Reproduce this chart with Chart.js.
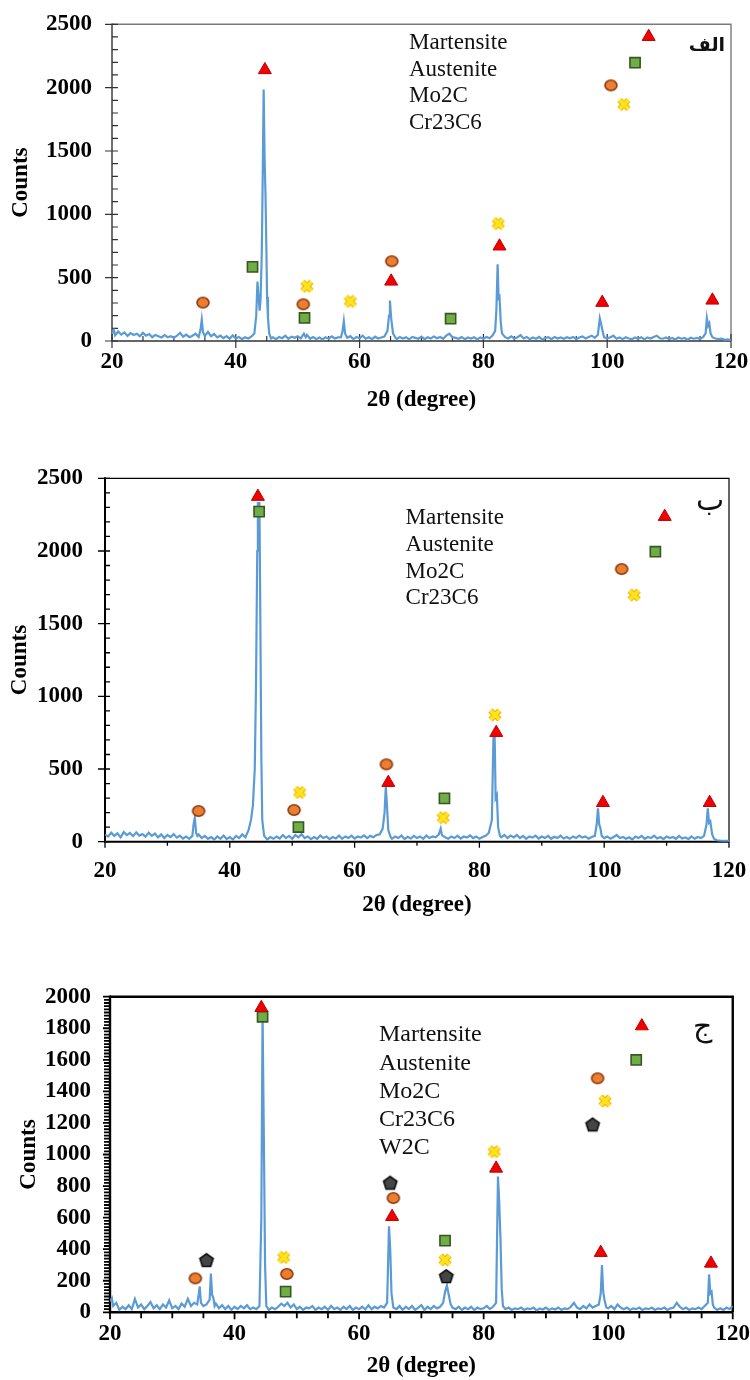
<!DOCTYPE html>
<html lang="fa">
<head>
<meta charset="UTF-8">
<title>XRD</title>
<script src="https://cdn.jsdelivr.net/npm/chart.js"></script>
<style>
  body { margin: 0; background: #fff; width: 750px; height: 1380px; position: relative; overflow: hidden; }
  .panel { position: absolute; left: 0; }
</style>
</head>
<body>
<div class="panel" style="top:0"><canvas id="c1" width="750" height="420"></canvas></div>
<div class="panel" style="top:460px"><canvas id="c2" width="750" height="480"></canvas></div>
<div class="panel" style="top:960px"><canvas id="c3" width="750" height="420"></canvas></div>
<script>
// ---- data ----
const phaseNames = ['Martensite', 'Austenite', 'Mo2C', 'Cr23C6', 'W2C'];
const panelTags = ['الف', 'ب', 'ج'];
const xLabels = [20, 40, 60, 80, 100, 120];
const yLabels1 = [0, 500, 1000, 1500, 2000, 2500];
const yLabels2 = [0, 500, 1000, 1500, 2000, 2500];
const yLabels3 = [0, 200, 400, 600, 800, 1000, 1200, 1400, 1600, 1800, 2000];

// pattern (a) - 2theta, counts
const pattern1 = [
  [20,60],[20.3,85],[20.5,45],[21,75],[21.5,50],[22,68],[22.5,40],[23,62],[23.5,48],[24,58],[24.5,38],[25,64],
  [25.5,42],[26,55],[26.5,30],[27,48],[27.5,38],[28,28],[28.5,46],[29,30],[29.5,38],[30,25],[30.5,42],[31,65],
  [31.5,34],[32,50],[32.5,30],[33,42],[33.5,58],[34,32],[34.3,90],[34.5,170],[34.7,70],[35,40],[35.5,72],[36,38],
  [36.5,55],[37,28],[37.5,42],[38,22],[38.5,38],[39,18],[39.5,44],[40,20],[40.5,32],[41,15],[41.5,30],[42,20],
  [42.5,35],[43,60],[43.3,200],[43.5,470],[43.7,330],[43.85,240],[44,330],[44.2,700],[44.35,1300],[44.5,1985],
  [44.65,1450],[44.8,1150],[44.95,700],[45.05,350],[45.2,180],[45.4,60],[45.7,20],[46,30],[46.5,15],[47,32],
  [47.5,22],[48,42],[48.5,18],[49,34],[49.5,25],[50,38],[50.5,20],[51,58],[51.3,30],[51.5,48],[52,18],[52.5,32],
  [53,15],[53.5,28],[54,12],[54.5,30],[55,18],[55.5,36],[56,20],[56.5,28],[57,30],[57.25,80],[57.45,155],[57.65,60],
  [58,25],[58.5,38],[59,15],[59.5,32],[60,22],[60.5,42],[61,18],[61.5,30],[62,15],[62.5,34],[63,20],[63.5,28],
  [64,35],[64.5,80],[64.75,200],[64.9,320],[65.1,180],[65.4,60],[65.8,25],[66,15],[66.5,32],[67,20],[67.5,30],
  [68,12],[68.5,32],[69,25],[69.5,18],[70,34],[70.5,15],[71,30],[71.5,20],[72,36],[72.5,22],[73,32],[73.5,18],
  [74,42],[74.5,58],[75,30],[75.5,25],[76,18],[76.5,32],[77,15],[77.5,28],[78,20],[78.5,30],[79,12],[79.5,28],
  [80,18],[80.5,32],[81,22],[81.5,45],[81.9,80],[82.1,250],[82.3,605],[82.45,340],[82.6,350],[82.8,150],[83,60],
  [83.5,30],[84,20],[84.5,36],[85,18],[85.5,30],[86,46],[86.5,20],[87,32],[87.5,15],[88,28],[88.5,18],[89,32],
  [89.5,12],[90,24],[90.5,30],[91,15],[91.5,32],[92,20],[92.5,28],[93,18],[93.5,30],[94,22],[94.5,32],[95,15],
  [95.5,28],[96,36],[96.5,20],[97,32],[97.5,42],[98,25],[98.5,50],[98.8,180],[99,140],[99.2,90],[99.5,30],
  [100,20],[100.5,30],[101,42],[101.5,18],[102,28],[102.5,15],[103,30],[103.5,20],[104,15],[104.5,28],[105,18],
  [105.5,30],[106,12],[106.5,28],[107,20],[107.5,32],[108,42],[108.5,22],[109,18],[109.5,28],[110,15],[110.5,24],
  [111,12],[111.5,28],[112,18],[112.5,24],[113,10],[113.5,26],[114,18],[114.5,24],[115,15],[115.5,32],[115.9,60],
  [116.1,180],[116.3,120],[116.5,140],[116.7,60],[117,30],[117.5,20],[118,15],[118.5,18],[119,10],[119.5,12],[120,5]
];
const martensite1 = [[44.7,2140],[65.1,471],[82.6,748],[99.2,303],[117,321]];
const austenite1 = [[42.7,585],[51.1,182],[74.7,176]];
const mo2c1 = [[34.7,303],[50.9,290],[65.2,630]];
const cr23c61 = [[51.5,432],[58.5,313],[82.4,927]];
const keys1 = [[106.7,2402],[104.5,2197],[100.6,2018],[102.7,1867]];

// pattern (b)
const pattern2 = [
  [20,50],[20.5,35],[21,62],[21.5,40],[22,58],[22.5,30],[23,66],[23.5,45],[24,60],[24.5,38],[25,64],[25.5,42],
  [26,52],[26.5,35],[27,62],[27.5,40],[28,56],[28.5,30],[29,50],[29.5,25],[30,46],[30.5,32],[31,52],[31.5,28],
  [32,42],[32.5,22],[33,36],[33.5,20],[34,40],[34.2,120],[34.4,165],[34.6,60],[34.8,40],[35,50],[35.5,25],[36,40],
  [36.5,20],[37,32],[37.5,15],[38,36],[38.5,20],[39,42],[39.5,18],[40,32],[40.5,15],[41,40],[41.5,25],[42,50],
  [42.5,30],[43,80],[43.4,150],[43.7,250],[44,500],[44.2,1080],[44.4,2000],[44.5,2330],[44.75,2330],[44.9,1500],
  [45.05,600],[45.2,150],[45.5,40],[46,15],[46.5,32],[47,20],[47.5,36],[48,22],[48.5,46],[49,25],[49.5,40],[50,20],
  [50.5,46],[51,30],[51.5,52],[52,25],[52.5,36],[53,18],[53.5,32],[54,20],[54.5,42],[55,25],[55.5,36],[56,18],
  [56.5,32],[57,22],[57.5,42],[58,20],[58.5,36],[59,25],[59.5,42],[60,22],[60.5,36],[61,28],[61.5,44],[62,25],
  [62.5,40],[63,30],[63.5,46],[64,50],[64.5,90],[64.8,200],[65,380],[65.2,240],[65.4,80],[65.8,30],[66,20],
  [66.5,36],[67,25],[67.5,42],[68,18],[68.5,34],[69,22],[69.5,40],[70,25],[70.5,36],[71,20],[71.5,42],[72,25],
  [72.5,36],[73,30],[73.5,50],[73.8,90],[74,45],[74.5,30],[75,20],[75.5,36],[76,25],[76.5,42],[77,22],[77.5,36],
  [78,28],[78.5,44],[79,25],[79.5,36],[80,20],[80.5,32],[81,40],[81.5,60],[82,150],[82.25,720],[82.45,720],
  [82.6,300],[82.8,320],[83,100],[83.3,40],[83.5,30],[84,46],[84.5,25],[85,42],[85.5,30],[86,46],[86.5,25],[87,40],
  [87.5,20],[88,36],[88.5,28],[89,42],[89.5,22],[90,36],[90.5,25],[91,40],[91.5,20],[92,34],[92.5,25],[93,42],
  [93.5,22],[94,32],[94.5,20],[95,36],[95.5,25],[96,42],[96.5,28],[97,36],[97.5,20],[98,32],[98.5,40],[98.8,120],
  [99,230],[99.2,120],[99.4,90],[99.6,40],[100,25],[100.5,36],[101,20],[101.5,32],[102,46],[102.5,25],[103,32],
  [103.5,20],[104,30],[104.5,15],[105,36],[105.5,25],[106,40],[106.5,20],[107,32],[107.5,25],[108,42],[108.5,22],
  [109,32],[109.5,18],[110,36],[110.5,25],[111,32],[111.5,20],[112,40],[112.5,22],[113,30],[113.5,18],[114,36],
  [114.5,20],[115,32],[115.5,25],[116,40],[116.4,120],[116.6,230],[116.8,130],[117,140],[117.3,50],[117.6,20],
  [118,10],[118.5,8],[119,5],[119.5,5],[120,5]
];
const martensite2 = [[44.5,2374],[65.4,406],[82.7,750],[99.8,268],[116.9,268]];
const austenite2 = [[44.7,2271],[51,101],[74.4,298]];
const mo2c2 = [[35,211],[50.3,218],[65.1,532]];
const cr23c62 = [[51.2,339],[74.2,165],[82.5,872]];
const keys2 = [[109.7,2236],[108.2,1995],[102.8,1876],[104.8,1697]];

// pattern (c)
const pattern3 = [
  [20,70],[20.3,90],[20.5,40],[21,60],[21.5,15],[22,35],[22.5,20],[23,45],[23.5,20],[24,85],[24.5,30],[25,50],
  [25.5,20],[26,40],[26.5,65],[27,25],[27.5,45],[28,20],[28.5,50],[29,30],[29.5,75],[30,25],[30.5,40],[31,20],
  [31.5,55],[32,35],[32.5,85],[33,40],[33.5,60],[34,50],[34.2,100],[34.4,165],[34.6,60],[35,40],[35.5,50],[36,80],
  [36.2,245],[36.4,110],[36.6,90],[36.8,40],[37,55],[37.5,25],[38,45],[38.5,20],[39,40],[39.5,15],[40,35],[40.5,20],
  [41,40],[41.5,25],[42,45],[42.5,20],[43,30],[43.5,20],[44,40],[44.3,600],[44.5,1900],[44.6,1500],[44.75,930],
  [44.9,300],[45.1,40],[45.5,15],[46,30],[46.5,20],[47,35],[47.5,55],[48,40],[48.5,60],[49,30],[49.5,50],[50,20],
  [50.5,35],[51,15],[51.5,30],[52,25],[52.5,40],[53,15],[53.5,30],[54,20],[54.5,35],[55,15],[55.5,40],[56,20],
  [56.5,30],[57,15],[57.5,35],[58,20],[58.5,40],[59,15],[59.5,30],[60,20],[60.5,35],[61,18],[61.5,45],[62,20],
  [62.5,35],[63,25],[63.5,40],[64,30],[64.5,60],[64.8,545],[65,400],[65.2,120],[65.5,30],[66,20],[66.5,40],[67,15],
  [67.5,35],[68,20],[68.5,40],[69,15],[69.5,30],[70,45],[70.5,15],[71,35],[71.5,20],[72,40],[72.5,25],[73,35],
  [73.5,60],[73.8,130],[74.1,170],[74.4,110],[74.7,50],[75,30],[75.5,20],[76,35],[76.5,15],[77,30],[77.5,20],
  [78,35],[78.5,15],[79,30],[79.5,20],[80,25],[80.5,40],[81,20],[81.5,35],[82,60],[82.3,860],[82.5,700],[82.7,470],
  [82.9,150],[83.1,40],[83.5,20],[84,30],[84.5,15],[85,25],[85.5,20],[86,30],[86.5,15],[87,25],[87.5,20],[88,30],
  [88.5,12],[89,25],[89.5,18],[90,30],[90.5,15],[91,25],[91.5,18],[92,30],[92.5,15],[93,25],[93.5,20],[94,35],
  [94.5,60],[95,30],[95.5,20],[96,40],[96.5,25],[97,50],[97.5,30],[98,40],[98.5,50],[98.8,120],[99,300],[99.2,130],
  [99.4,80],[99.7,30],[100,25],[100.5,40],[101,20],[101.5,50],[102,30],[102.5,20],[103,30],[103.5,15],[104,25],
  [104.5,20],[105,30],[105.5,15],[106,25],[106.5,20],[107,30],[107.5,15],[108,25],[108.5,20],[109,30],[109.5,15],
  [110,25],[110.5,30],[111,60],[111.5,35],[112,20],[112.5,30],[113,15],[113.5,25],[114,20],[114.5,30],[115,20],
  [115.5,40],[116,60],[116.2,240],[116.4,120],[116.6,130],[116.8,50],[117,30],[117.5,15],[118,25],[118.5,15],
  [119,30],[119.5,20],[120,40]
];
const martensite3 = [[44.3,1930],[65.3,606],[82,912],[98.8,378],[116.5,310]];
const austenite3 = [[44.5,1873],[48.2,131],[73.8,454]];
const mo2c3 = [[33.7,215],[48.4,243],[65.5,724]];
const cr23c63 = [[47.9,348],[73.8,332],[81.7,1018]];
const w2c3 = [[35.5,332],[65,822],[74,230]];
const keys3 = [[105.4,1814],[104.5,1599],[98.3,1483],[99.5,1339],[97.5,1191]];

// ---- marker glyphs ----
Chart.defaults.font.family = "'Liberation Serif', 'Times New Roman', serif";
Chart.defaults.color = '#000';

function glyph(size, draw) {
  const c = document.createElement('canvas');
  c.width = size; c.height = size;
  draw(c.getContext('2d'), size);
  return c;
}
const crossImg = glyph(16, (g, s) => {
  const m = 3.5;
  g.beginPath();
  g.moveTo(m, m); g.lineTo(s - m, s - m);
  g.moveTo(s - m, m); g.lineTo(m, s - m);
  g.strokeStyle = '#F2B400'; g.lineWidth = 6; g.stroke();
  g.strokeStyle = '#FFE51F'; g.lineWidth = 3.6; g.stroke();
});
const pentImg = glyph(18, (g, s) => {
  const cx = s / 2, cy = s / 2 + 0.8, r = 7;
  g.beginPath();
  for (let k = 0; k < 5; k++) {
    const a = -Math.PI / 2 + k * 2 * Math.PI / 5;
    g.lineTo(cx + r * Math.cos(a), cy + r * Math.sin(a));
  }
  g.closePath();
  g.fillStyle = '#454545'; g.fill();
  g.strokeStyle = '#0d0d0d'; g.lineWidth = 1.6; g.stroke();
});
const ovalImg = glyph(16, (g, s) => {
  g.beginPath();
  g.ellipse(s / 2, s / 2, 6, 5.2, 0, 0, Math.PI * 2);
  g.fillStyle = '#ED7D31'; g.fill();
  g.strokeStyle = '#8A3B0E'; g.lineWidth = 1.6; g.stroke();
});

const phaseStyle = [
  { pointStyle: 'triangle', pointRadius: 7.5, backgroundColor: '#F00000', borderColor: '#C00000', borderWidth: 1 },
  { pointStyle: 'rect', pointRadius: 7.2, backgroundColor: '#70AD47', borderColor: '#375623', borderWidth: 1.6 },
  { pointStyle: ovalImg, pointRadius: 7 },
  { pointStyle: crossImg, pointRadius: 8 },
  { pointStyle: pentImg, pointRadius: 8 }
];

// frame, tick marks, phase list and panel tag
const frame = {
  id: 'frame',
  beforeDatasetsDraw(chart, args, o) {
    const { ctx, chartArea: a, scales: { x, y } } = chart;
    ctx.save();
    ctx.lineCap = 'butt';
    ctx.strokeStyle = o.frameColor; ctx.lineWidth = o.frameWidth;
    ctx.beginPath();
    ctx.moveTo(a.left, a.top); ctx.lineTo(a.right, a.top); ctx.lineTo(a.right, a.bottom);
    ctx.stroke();
    ctx.strokeStyle = o.axisColor; ctx.lineWidth = o.axisWidth;
    ctx.beginPath();
    ctx.moveTo(a.left, a.top - o.axisWidth / 2); ctx.lineTo(a.left, a.bottom); ctx.lineTo(a.right, a.bottom);
    ctx.stroke();
    ctx.lineWidth = o.tickWidth;
    ctx.beginPath();
    for (let v = y.min; v <= y.max + 1e-6; v += o.yMinor) {
      const py = y.getPixelForValue(v);
      const major = Math.abs(v % o.yMajor) < 1e-6;
      ctx.moveTo(a.left - (major ? o.yOut : o.yMinorOut), py);
      ctx.lineTo(a.left + (major ? o.yIn : o.yMinorIn), py);
    }
    for (let v = x.min; v <= x.max + 1e-6; v += o.xMinor) {
      const px = x.getPixelForValue(v);
      const major = Math.abs(v % 20) < 1e-6;
      ctx.moveTo(px, a.bottom + (major ? o.xOut : o.xMinorOut));
      ctx.lineTo(px, a.bottom - (major ? o.xIn : o.xMinorIn));
    }
    ctx.stroke();
    ctx.restore();
  },
  afterDraw(chart, args, o) {
    const { ctx, chartArea: a } = chart;
    ctx.save();
    ctx.fillStyle = '#111';
    ctx.font = o.textSize + "px 'Liberation Serif'";
    ctx.textAlign = 'left';
    ctx.textBaseline = 'middle';
    for (let i = 0; i < o.count; i++) {
      ctx.fillText(phaseNames[i], a.left + o.textDx, a.top + o.textDy + i * o.textGap);
    }
    ctx.font = o.tagFont;
    ctx.textAlign = 'center';
    ctx.fillText(o.tag, a.right - o.tagDx, a.top + o.tagDy);
    ctx.restore();
  }
};

function makeChart(id, pattern, phases, keys, yMax, yLabels, cfg) {
  const datasets = [{
    type: 'line', data: pattern, borderColor: '#5B9BD5', borderWidth: 2.2,
    pointRadius: 0, tension: 0, order: 10
  }];
  phases.forEach((pts, i) => {
    datasets.push(Object.assign({ type: 'scatter', data: pts.concat([keys[i]]), order: 1 }, phaseStyle[i]));
  });
  const tickFont = { size: 23, weight: 'bold' };
  const titleFont = { size: 23, weight: 'bold', lineHeight: 1.2 };
  // the label gap is carried by an invisible tick mark so the layout keeps the plot box where it is
  const hidden = len => ({ display: true, drawOnChartArea: false, drawTicks: true, tickLength: len,
                           color: 'rgba(0,0,0,0)' });
  return new Chart(document.getElementById(id), {
    data: { datasets },
    plugins: [frame],
    options: {
      responsive: false, animation: false, events: [],
      layout: { padding: { left: 0, top: cfg.top, right: cfg.right, bottom: 0 } },
      plugins: {
        legend: { display: false }, tooltip: { enabled: false },
        frame: cfg.frame
      },
      scales: {
        x: {
          type: 'linear', min: 20, max: 120,
          afterBuildTicks: s => { s.ticks = xLabels.map(v => ({ value: v })); },
          afterFit: s => { s.height = cfg.xHeight; },
          grid: hidden(cfg.xPad), border: { display: false },
          ticks: { padding: 0, font: tickFont, color: '#000', maxRotation: 0, autoSkip: false,
                   callback: v => String(v) },
          title: { display: true, text: '2θ (degree)', color: '#000', font: titleFont,
                   padding: { top: 0, bottom: cfg.xTitlePad } }
        },
        y: {
          type: 'linear', min: 0, max: yMax,
          afterBuildTicks: s => { s.ticks = yLabels.map(v => ({ value: v })); },
          afterFit: s => { s.width = cfg.yWidth; },
          grid: hidden(cfg.yPad), border: { display: false },
          ticks: { padding: 0, font: tickFont, color: '#000', autoSkip: false,
                   callback: v => String(v) },
          title: { display: true, text: 'Counts', color: '#000', font: titleFont,
                   padding: { top: cfg.yTitlePad, bottom: 0 } }
        }
      }
    }
  });
}

makeChart('c1', pattern1, [martensite1, austenite1, mo2c1, cr23c61], keys1, 2500, yLabels1, {
  top: 24.3, right: 19, xHeight: 79, yWidth: 112, xPad: 7, xTitlePad: 6.2, yPad: 20, yTitlePad: 7.7,
  frame: { frameColor: '#7a7a7a', frameWidth: 1.4, axisColor: '#333', axisWidth: 1.4, tickWidth: 1.2,
           yMinor: 100, yMajor: 500, yOut: 7, yIn: 6, yMinorOut: 0, yMinorIn: 6,
           xMinor: 5, xOut: 7, xIn: 7, xMinorOut: 0, xMinorIn: 5,
           count: 4, textSize: 23, textDx: 297, textDy: 18.3, textGap: 26.9,
           tag: panelTags[0], tagFont: "bold 19px 'DejaVu Sans'", tagDx: 24, tagDy: 22 }
});

makeChart('c2', pattern2, [martensite2, austenite2, mo2c2, cr23c62], keys2, 2500, yLabels2, {
  top: 18.3, right: 21, xHeight: 98.3, yWidth: 105, xPad: 16, xTitlePad: 21, yPad: 22, yTitlePad: 6.2,
  frame: { frameColor: '#000', frameWidth: 1.2, axisColor: '#000', axisWidth: 2, tickWidth: 1.3,
           yMinor: 100, yMajor: 500, yOut: 7, yIn: 5, yMinorOut: 0, yMinorIn: 5,
           xMinor: 10, xOut: 6, xIn: 0, xMinorOut: 4, xMinorIn: 0,
           count: 4, textSize: 23, textDx: 300.6, textDy: 40, textGap: 26.7,
           tag: panelTags[1], tagFont: "30px 'DejaVu Sans'", tagDx: 19, tagDy: 24 }
});

makeChart('c3', pattern3, [martensite3, austenite3, mo2c3, cr23c63, w2c3], keys3, 2000, yLabels3, {
  top: 36.7, right: 17, xHeight: 67.7, yWidth: 110, xPad: 8, xTitlePad: 0, yPad: 19, yTitlePad: 15.2,
  frame: { frameColor: '#000', frameWidth: 2.4, axisColor: '#000', axisWidth: 2.4, tickWidth: 1.8,
           yMinor: 20, yMajor: 200, yOut: 7, yIn: 0, yMinorOut: 6, yMinorIn: 0,
           xMinor: 5, xOut: 7, xIn: 0, xMinorOut: 6, xMinorIn: 0,
           count: 5, textSize: 24, textDx: 269, textDy: 38.3, textGap: 28.3,
           tag: panelTags[2], tagFont: "30px 'DejaVu Sans'", tagDx: 30, tagDy: 32 }
});
</script>
</body>
</html>
